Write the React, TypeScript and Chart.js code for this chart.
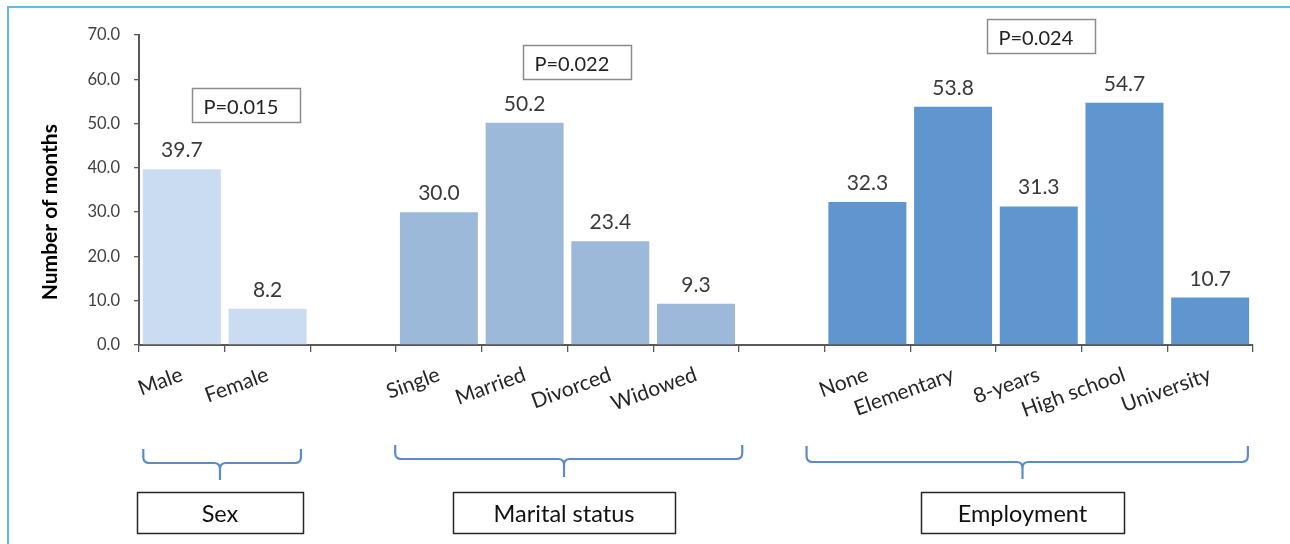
import React, { useEffect, useRef } from "react";
import { Chart, registerables } from "chart.js";

Chart.register(...registerables);

// ---- data ----
const sexLabels = ["Male", "Female"];
const sexValues = [39.7, 8.2];
const maritalLabels = ["Single", "Married", "Divorced", "Widowed"];
const maritalValues = [30.0, 50.2, 23.4, 9.3];
const employmentLabels = ["None", "Elementary", "8-years", "High school", "University"];
const employmentValues = [32.3, 53.8, 31.3, 54.7, 10.7];
const groupNames = ["Sex", "Marital status", "Employment"];
const pValueTexts = ["P=0.015", "P=0.022", "P=0.024"];
const yTickLabels = ["0.0", "10.0", "20.0", "30.0", "40.0", "50.0", "60.0", "70.0"];
const yAxisTitle = "Number of months";

// ---- layout / style (positions in category-boundary units) ----
const groupColors = ["#CADCF1", "#9DB9DA", "#6096D0"];
const pBoxLayout = [
  { u: 1.25, yValue: 54.2 },
  { u: 5.11, yValue: 63.8 },
  { u: 10.53, yValue: 69.7 },
];
const bracketLayout = [
  { u1: 0.05, u2: 1.89, tip: 0.945, top: 104, mid: 118, bottom: 135, boxW: 166 },
  { u1: 2.99, u2: 7.04, tip: 4.96, top: 100, mid: 114, bottom: 132, boxW: 222 },
  { u1: 7.79, u2: 12.94, tip: 10.31, top: 101, mid: 117, bottom: 134, boxW: 203 },
];
const FONT = "Lato, 'Open Sans', sans-serif";

const groups = [sexValues, maritalValues, employmentValues];
const allLabels = [...sexLabels, "", ...maritalLabels, "", ...employmentLabels];

function buildSeries(gi: number): (number | null)[] {
  const out: (number | null)[] = [];
  groups.forEach((vals, g) => {
    vals.forEach((v) => out.push(g === gi ? v : null));
    if (g < groups.length - 1) out.push(null);
  });
  return out;
}

const framePlugin = {
  id: "frame",
  beforeDraw(chart: any) {
    const ctx = chart.ctx;
    ctx.save();
    ctx.strokeStyle = "#5BBDEA";
    ctx.lineWidth = 2;
    ctx.beginPath();
    ctx.moveTo(8, 544);
    ctx.lineTo(8, 7);
    ctx.lineTo(1290, 7);
    ctx.stroke();
    ctx.restore();
  },
};

const valueLabelPlugin = {
  id: "valueLabels",
  afterDatasetsDraw(chart: any) {
    const ctx = chart.ctx;
    ctx.save();
    ctx.font = `21px ${FONT}`;
    ctx.fillStyle = "#3a3a3a";
    ctx.textAlign = "center";
    ctx.textBaseline = "alphabetic";
    chart.data.datasets.forEach((ds: any, di: number) => {
      const meta = chart.getDatasetMeta(di);
      meta.data.forEach((el: any, i: number) => {
        const v = ds.data[i];
        if (v === null || v === undefined) return;
        ctx.fillText(Number(v).toFixed(1), el.x, el.y - 12);
      });
    });
    ctx.restore();
  },
};

const decorPlugin = {
  id: "decor",
  afterDraw(chart: any) {
    const ctx = chart.ctx;
    const xs = chart.scales.x;
    const ys = chart.scales.y;
    const base = chart.chartArea.bottom;
    const px = (u: number) => xs.getPixelForValue(u - 0.5);
    ctx.save();
    // y axis title
    ctx.save();
    ctx.translate(57, ys.getPixelForValue(30));
    ctx.rotate(-Math.PI / 2);
    ctx.fillStyle = "#000000";
    ctx.font = `bold 21px ${FONT}`;
    ctx.textAlign = "center";
    ctx.textBaseline = "alphabetic";
    ctx.fillText(yAxisTitle, 0, 0);
    ctx.restore();
    // P-value boxes
    pBoxLayout.forEach((b, i) => {
      const cx = px(b.u);
      const cy = ys.getPixelForValue(b.yValue);
      const w = 108, h = 34;
      const x0 = Math.round(cx - w / 2) + 0.5;
      const y0 = Math.round(cy - h / 2) + 0.5;
      ctx.fillStyle = "#ffffff";
      ctx.fillRect(x0, y0, w, h);
      ctx.strokeStyle = "#8c8c8c";
      ctx.lineWidth = 1.5;
      ctx.strokeRect(x0, y0, w, h);
      ctx.fillStyle = "#222222";
      ctx.font = `20px ${FONT}`;
      ctx.textAlign = "left";
      ctx.textBaseline = "alphabetic";
      ctx.fillText(pValueTexts[i], x0 + 11, y0 + h / 2 + 8);
    });
    // brackets and group label boxes
    bracketLayout.forEach((b, i) => {
      const x1 = px(b.u1), x2 = px(b.u2), xt = px(b.tip);
      const yTop = base + b.top, yMid = base + b.mid, yBot = base + b.bottom;
      const r = 6;
      ctx.strokeStyle = "#5B8BC9";
      ctx.lineWidth = 2.2;
      ctx.lineJoin = "round";
      ctx.beginPath();
      ctx.moveTo(x1, yTop);
      ctx.lineTo(x1, yMid - r);
      ctx.quadraticCurveTo(x1, yMid, x1 + r, yMid);
      ctx.lineTo(xt - r, yMid);
      ctx.quadraticCurveTo(xt, yMid, xt, yMid + r);
      ctx.lineTo(xt, yBot);
      ctx.moveTo(xt, yMid + r);
      ctx.quadraticCurveTo(xt, yMid, xt + r, yMid);
      ctx.lineTo(x2 - r, yMid);
      ctx.quadraticCurveTo(x2, yMid, x2, yMid - r);
      ctx.lineTo(x2, yTop);
      ctx.stroke();

      const bw = b.boxW, bh = 41;
      const bx = Math.round(xt - bw / 2) + 0.5;
      const by = Math.round(base + 147) + 0.5;
      ctx.strokeStyle = "#262626";
      ctx.lineWidth = 1.5;
      ctx.strokeRect(bx, by, bw, bh);
      ctx.fillStyle = "#111111";
      ctx.font = `23.5px ${FONT}`;
      ctx.textAlign = "center";
      ctx.textBaseline = "alphabetic";
      ctx.fillText(groupNames[i], xt, by + 29);
    });
    ctx.restore();
  },
};

export default function App() {
  const ref = useRef<HTMLCanvasElement | null>(null);
  useEffect(() => {
    if (!ref.current) return;
    const chart = new Chart(ref.current, {
      type: "bar",
      data: {
        labels: allLabels,
        datasets: groups.map((_, gi) => ({
          label: groupNames[gi],
          data: buildSeries(gi),
          backgroundColor: groupColors[gi],
          borderWidth: 0,
          barPercentage: 0.91,
          categoryPercentage: 1,
        })),
      },
      options: {
        animation: false,
        responsive: false,
        maintainAspectRatio: false,
        layout: { padding: { top: 35, right: 37, left: 0, bottom: 0 } },
        plugins: { legend: { display: false }, tooltip: { enabled: false } },
        scales: {
          x: {
            stacked: true,
            grid: {
              offset: true,
              drawOnChartArea: false,
              drawTicks: true,
              tickLength: 7,
              color: "#595959",
              lineWidth: 1.3,
            },
            border: { color: "#595959", width: 2 },
            ticks: {
              autoSkip: false,
              minRotation: 20,
              maxRotation: 20,
              padding: 10,
              color: "#262626",
              font: { family: FONT, size: 21 },
            },
            afterFit: (s: any) => {
              s.height = 199;
            },
          },
          y: {
            stacked: true,
            min: 0,
            max: 70,
            grid: {
              drawOnChartArea: false,
              drawTicks: true,
              tickLength: 5,
              color: "#595959",
              lineWidth: 1.3,
            },
            border: { color: "#595959", width: 2 },
            ticks: {
              stepSize: 10,
              padding: 14,
              color: "#404040",
              font: { family: FONT, size: 16.5 },
              callback: (_v: any, i: number) => yTickLabels[i],
            },
            title: { display: false, text: yAxisTitle },
            afterFit: (s: any) => {
              s.width = 139;
            },
          },
        },
      },
      plugins: [framePlugin, valueLabelPlugin, decorPlugin],
    } as any);
    let alive = true;
    if ((document as any).fonts) {
      Promise.all([
        (document as any).fonts.load(`21px Lato`),
        (document as any).fonts.load(`bold 21px Lato`),
      ]).then(() => {
        if (alive) chart.update();
      });
    }
    return () => {
      alive = false;
      chart.destroy();
    };
  }, []);
  return (
    <div style={{ position: "fixed", left: 0, top: 0, width: 1290, height: 544, background: "#fff" }}>
      <canvas ref={ref} width={1290} height={544} style={{ width: 1290, height: 544, display: "block" }} />
    </div>
  );
}
